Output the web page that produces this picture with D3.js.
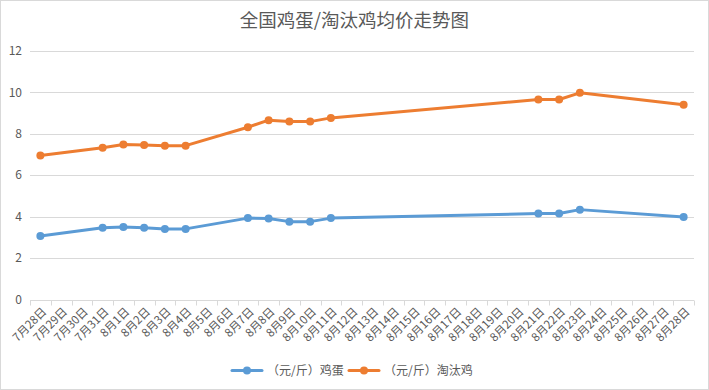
<!DOCTYPE html>
<html><head><meta charset="utf-8">
<script src="https://cdn.jsdelivr.net/npm/d3@7"></script>
<style>
html,body{margin:0;padding:0;background:#fff;}
svg{display:block;font-family:"Noto Sans CJK SC","Noto Sans",sans-serif;}
</style></head>
<body><svg id="chart" width="709" height="390"></svg>
<script>
const title = "全国鸡蛋/淘汰鸡均价走势图";
const categories = ["7月28日","7月29日","7月30日","7月31日","8月1日","8月2日","8月3日","8月4日","8月5日","8月6日","8月7日","8月8日","8月9日","8月10日","8月11日","8月12日","8月13日","8月14日","8月15日","8月16日","8月17日","8月18日","8月19日","8月20日","8月21日","8月22日","8月23日","8月24日","8月25日","8月26日","8月27日","8月28日"];
const eggValues = [3.07,null,null,3.47,3.50,3.47,3.41,3.41,null,null,3.93,3.91,3.76,3.76,3.93,null,null,null,null,null,null,null,null,null,4.15,4.15,4.34,null,null,null,null,3.98];
const henValues = [6.95,null,null,7.33,7.48,7.46,7.43,7.43,null,null,8.32,8.66,8.59,8.59,8.77,null,null,null,null,null,null,null,null,null,9.66,9.66,9.98,null,null,null,null,9.40];
const seriesNames = ["（元/斤）鸡蛋","（元/斤）淘汰鸡"];
const seriesColors = ["#5B9BD5","#ED7D31"];
const yTicks = [0,2,4,6,8,10,12];

const svg = d3.select("#chart");
const W = 709, H = 390;
svg.append("rect").attr("x",0.5).attr("y",0.5).attr("width",W-1).attr("height",H-1)
  .attr("fill","#fff").attr("stroke","#d9d9d9");

svg.append("text").attr("x",354.5).attr("y",27).attr("text-anchor","middle")
  .attr("font-size","18.5px").attr("fill","#595959").text(title);

const x = d3.scaleBand().domain(categories).range([30,694]).padding(0);
const y = d3.scaleLinear().domain([0,12]).range([299.5,51]);

// gridlines
svg.append("g").selectAll("line").data(yTicks.filter(d=>d>0)).join("line")
  .attr("x1",30).attr("x2",694)
  .attr("y1",d=>Math.round(y(d))+0.5).attr("y2",d=>Math.round(y(d))+0.5)
  .attr("stroke","#d9d9d9").attr("stroke-width",1);

// y labels
svg.append("g").selectAll("text").data(yTicks).join("text")
  .attr("x",22).attr("y",d=>y(d)).attr("dy","0.35em").attr("text-anchor","end")
  .attr("font-size","12px").attr("fill","#595959").text(d=>d);

// x axis
const xAxisY = Math.round(y(0))+0.5;
const xa = svg.append("g");
xa.append("line").attr("x1",30).attr("x2",694).attr("y1",xAxisY).attr("y2",xAxisY)
  .attr("stroke","#d9d9d9");
const bounds = categories.map(c=>x(c)).concat([x(categories[categories.length-1])+x.bandwidth()]);
xa.selectAll("line.tick").data(bounds).join("line").attr("class","tick")
  .attr("x1",d=>Math.round(d)+0.5).attr("x2",d=>Math.round(d)+0.5)
  .attr("y1",xAxisY).attr("y2",xAxisY+5).attr("stroke","#d9d9d9");
xa.selectAll("text").data(categories).join("text")
  .attr("transform",c=>`translate(${x(c)+x.bandwidth()/2+4},${xAxisY+9}) rotate(-45)`)
  .attr("text-anchor","end").attr("dy","0.35em")
  .attr("font-size","11.5px").attr("fill","#595959").text(c=>c);

// series
const allSeries = [eggValues, henValues];
allSeries.forEach((vals,i)=>{
  const pts = categories.map((c,j)=>({c, v: vals[j]})).filter(d=>d.v!=null);
  const line = d3.line().x(d=>x(d.c)+x.bandwidth()/2).y(d=>y(d.v));
  svg.append("path").datum(pts).attr("d",line).attr("fill","none")
    .attr("stroke",seriesColors[i]).attr("stroke-width",3).attr("stroke-linejoin","round").attr("stroke-linecap","round");
  svg.append("g").selectAll("circle").data(pts).join("circle")
    .attr("cx",d=>x(d.c)+x.bandwidth()/2).attr("cy",d=>y(d.v)).attr("r",4)
    .attr("fill",seriesColors[i]);
});

// legend
const legendItems = [{x:232, tx:267},{x:349, tx:384}];
const ly = 370.5;
legendItems.forEach((it,i)=>{
  const g = svg.append("g");
  g.append("line").attr("x1",it.x).attr("x2",it.x+30).attr("y1",ly).attr("y2",ly)
    .attr("stroke",seriesColors[i]).attr("stroke-width",3).attr("stroke-linecap","round");
  g.append("circle").attr("cx",it.x+15).attr("cy",ly).attr("r",4).attr("fill",seriesColors[i]);
  g.append("text").attr("x",it.tx).attr("y",ly).attr("dy","0.35em")
    .attr("font-size","12px").attr("fill","#595959").text(seriesNames[i]);
});
</script></body></html>
